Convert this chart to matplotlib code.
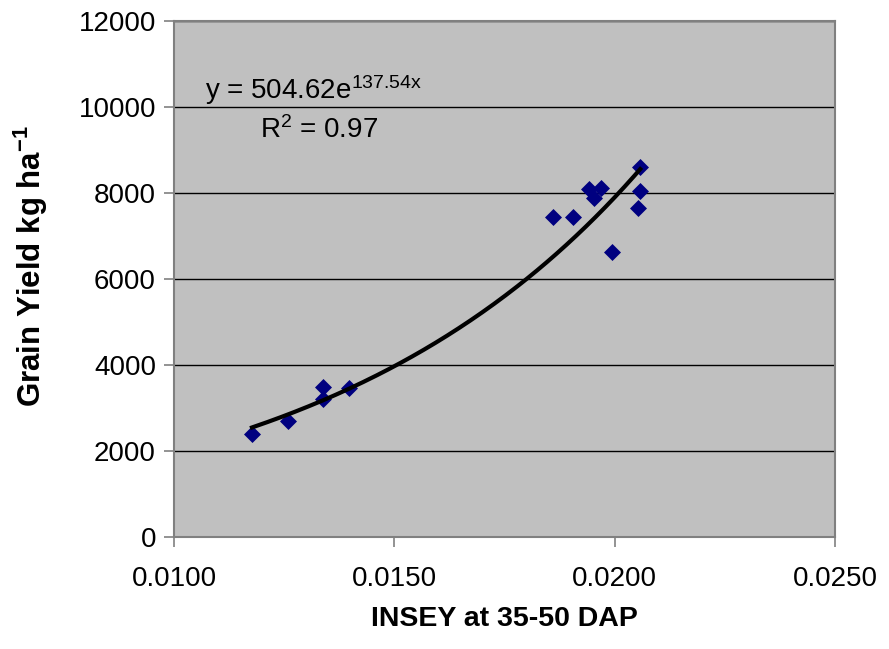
import numpy as np
import matplotlib
matplotlib.use('Agg')
import matplotlib.pyplot as plt

plt.rcParams['font.family'] = ['Liberation Sans', 'DejaVu Sans']

# INSEY values and grain yield
insey = [0.01177, 0.01258, 0.01338, 0.01338, 0.01398, 0.01859, 0.01906,
         0.01941, 0.01968, 0.01952, 0.01993, 0.02058, 0.02058, 0.02053]
yield_kg = [2395, 2698, 3495, 3202, 3472, 7449, 7449,
            8086, 8109, 7884, 6635, 8598, 8053, 7644]

# exponential trend line from the chart
a = 504.62
b = 137.54

fig = plt.figure(figsize=(8.89, 6.49), dpi=100)
ax = fig.add_axes([0.1957, 0.1726, 0.7436, 0.795])
ax.set_facecolor('#C0C0C0')

ax.scatter(insey, yield_kg, marker='D', s=75, color='#000080', zorder=3, linewidths=0)

xs = np.linspace(min(insey), max(insey), 200)
ax.plot(xs, a * np.exp(b * xs), color='black', lw=3, zorder=4)

ax.set_xlim(0.0100, 0.0250)
ax.set_ylim(0, 12000)
ax.set_xticks([0.0100, 0.0150, 0.0200, 0.0250])
ax.set_xticklabels(['0.0100', '0.0150', '0.0200', '0.0250'])
ax.set_yticks(range(0, 12001, 2000))
ax.yaxis.grid(True, color='black', lw=1)
ax.set_axisbelow(True)

for s in ax.spines.values():
    s.set_color('#808080')
    s.set_linewidth(1.5)
ax.tick_params(labelsize=20, length=7, color='#808080', width=1.2)
ax.tick_params(axis='x', pad=14)
ax.tick_params(axis='y', pad=6)

ax.set_xlabel('INSEY at 35-50 DAP', fontsize=20.5, fontweight='bold', labelpad=10)
ax.set_ylabel('Grain Yield kg ha$\\mathregular{^{-1}}$', fontsize=22.5, fontweight='bold')
ax.yaxis.set_label_coords(-0.187, 0.525)

ax.text(0.0107, 10000, 'y = 504.62e$\\mathregular{^{137.54x}}$', fontsize=20, va='bottom')
ax.text(0.01195, 9150, 'R$\\mathregular{^2}$ = 0.97', fontsize=20, va='bottom')

plt.savefig('out.png', dpi=100)
